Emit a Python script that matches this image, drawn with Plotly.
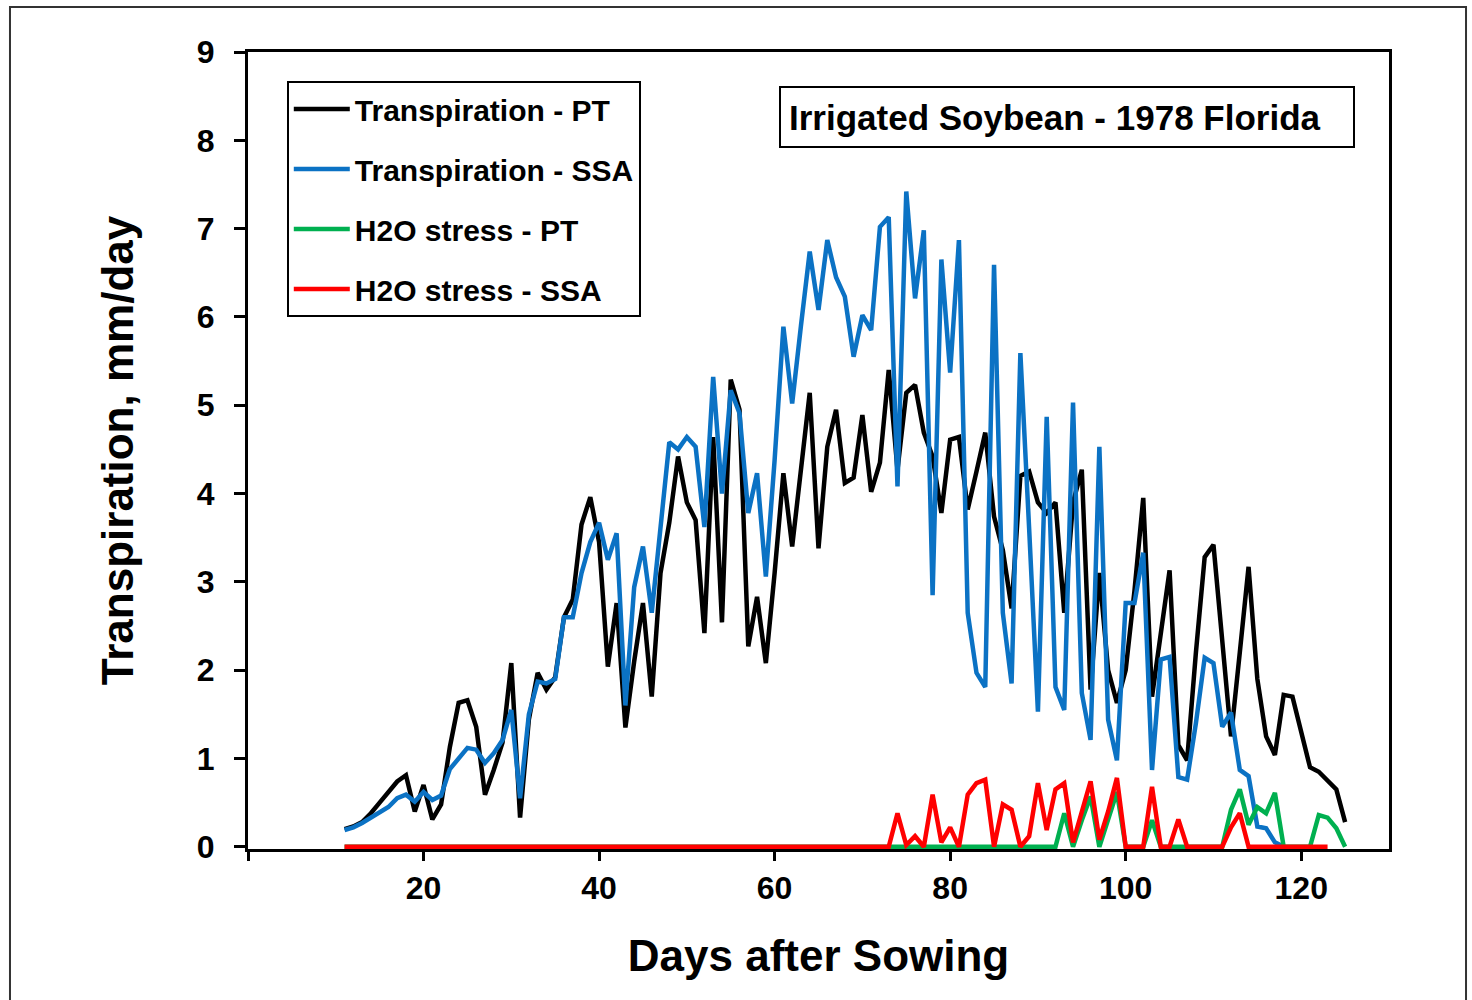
import plotly.graph_objects as go

# ---- data ----
days = list(range(11, 126))

transp_pt = [
    0.2, 0.23, 0.28, 0.38, 0.5, 0.62, 0.74, 0.81, 0.4, 0.7,
    0.31, 0.48, 1.13, 1.63, 1.66, 1.36, 0.59, 0.87, 1.18, 2.08,
    0.33, 1.44, 1.97, 1.78, 1.92, 2.6, 2.8, 3.65, 3.96, 3.45,
    2.04, 2.76, 1.35, 2.1, 2.76, 1.7, 3.1, 3.67, 4.42, 3.9,
    3.7, 2.42, 4.64, 2.54, 5.29, 4.95, 2.27, 2.83, 2.08, 3.1,
    4.23, 3.4, 4.3, 5.14, 3.38, 4.53, 4.95, 4.12, 4.18, 4.89,
    4.02, 4.35, 5.4, 4.27, 5.14, 5.23, 4.69, 4.42, 3.78, 4.61,
    4.64, 3.82, 4.25, 4.69, 3.74, 3.36, 2.7, 4.2, 4.25, 3.9,
    3.78, 3.9, 2.65, 3.9, 4.27, 1.78, 3.1, 2.0, 1.63, 2.0,
    2.9, 3.95, 1.7, 2.4, 3.13, 1.15, 0.98, 2.2, 3.28, 3.42,
    2.4, 1.25, 2.2, 3.17, 1.9, 1.25, 1.04, 1.72, 1.7, 1.3,
    0.9, 0.85, 0.75, 0.65, 0.28,
]

days_ssa = list(range(11, 119))
transp_ssa = [
    0.19, 0.22, 0.27, 0.33, 0.38, 0.45, 0.55, 0.59, 0.51, 0.62,
    0.53, 0.58, 0.88, 1.0, 1.12, 1.1, 0.95, 1.06, 1.21, 1.55,
    0.55, 1.5, 1.87, 1.85, 1.9, 2.6, 2.6, 3.1, 3.45, 3.67,
    3.25, 3.55, 1.6, 2.94, 3.4, 2.65, 3.6, 4.58, 4.5, 4.64,
    4.53, 3.62, 5.32, 4.0, 5.17, 4.91, 3.78, 4.23, 3.06, 4.38,
    5.89, 5.02, 5.9, 6.74, 6.08, 6.87, 6.45, 6.23, 5.55, 6.02,
    5.85, 7.02, 7.13, 4.08, 7.42, 6.21, 6.98, 2.85, 6.65, 5.37,
    6.87, 2.65, 1.97, 1.81, 6.59, 2.65, 1.85, 5.59, 3.6, 1.53,
    4.87, 1.81, 1.55, 5.03, 1.74, 1.21, 4.53, 1.44, 0.98, 2.76,
    2.76, 3.33, 0.87, 2.12, 2.15, 0.79, 0.76, 1.4, 2.14, 2.08,
    1.36, 1.52, 0.87, 0.8, 0.23, 0.21, 0.05, 0.0,
]

stress_pt = [
    0, 0, 0, 0, 0, 0, 0, 0, 0, 0,          # 11-20
    0, 0, 0, 0, 0, 0, 0, 0, 0, 0,          # 21-30
    0, 0, 0, 0, 0, 0, 0, 0, 0, 0,          # 31-40
    0, 0, 0, 0, 0, 0, 0, 0, 0, 0,          # 41-50
    0, 0, 0, 0, 0, 0, 0, 0, 0, 0,          # 51-60
    0, 0, 0, 0, 0, 0, 0, 0, 0, 0,          # 61-70
    0, 0, 0, 0, 0, 0, 0, 0, 0, 0,          # 71-80
    0, 0, 0, 0, 0, 0, 0, 0, 0, 0,          # 81-90
    0, 0, 0.38, 0, 0.3, 0.57, 0, 0.33, 0.62, 0,   # 91-100
    0, 0, 0.3, 0, 0, 0, 0, 0, 0, 0,        # 101-110
    0, 0.42, 0.65, 0.25, 0.45, 0.38, 0.61, 0, 0, 0,  # 111-120
    0, 0.36, 0.33, 0.21, 0,                # 121-125
]

days_red = list(range(11, 124))
stress_ssa = [
    0, 0, 0, 0, 0, 0, 0, 0, 0, 0,          # 11-20
    0, 0, 0, 0, 0, 0, 0, 0, 0, 0,          # 21-30
    0, 0, 0, 0, 0, 0, 0, 0, 0, 0,          # 31-40
    0, 0, 0, 0, 0, 0, 0, 0, 0, 0,          # 41-50
    0, 0, 0, 0, 0, 0, 0, 0, 0, 0,          # 51-60
    0, 0, 0, 0, 0, 0, 0, 0, 0, 0,          # 61-70
    0, 0, 0, 0.38, 0.02, 0.12, 0, 0.59, 0.05, 0.22,  # 71-80
    0, 0.59, 0.72, 0.76, 0, 0.48, 0.42, 0, 0.12, 0.72,  # 81-90
    0.19, 0.65, 0.72, 0.05, 0.4, 0.74, 0.08, 0.4, 0.78, 0,  # 91-100
    0, 0, 0.68, 0, 0, 0.31, 0, 0, 0, 0,    # 101-110
    0, 0.22, 0.38, 0, 0, 0, 0, 0, 0, 0,    # 111-120
    0, 0, 0,                               # 121-123
]

x_tickvals = [0, 20, 40, 60, 80, 100, 120]
x_ticktext = ["", "20", "40", "60", "80", "100", "120"]
y_tickvals = [0, 1, 2, 3, 4, 5, 6, 7, 8, 9]

FONT = "Liberation Sans, Arial, sans-serif"

fig = go.Figure()
series = [
    ("Transpiration - PT", days, transp_pt, "#000000"),
    ("Transpiration - SSA", days_ssa, transp_ssa, "#0B72C4"),
    ("H2O stress - PT", days, stress_pt, "#00B050"),
    ("H2O stress - SSA", days_red, stress_ssa, "#FF0000"),
]
for i, (name, xs, ys, col) in enumerate(series):
    fig.add_trace(go.Scatter(
        x=xs, y=ys, mode="lines", name=name,
        line=dict(color=col, width=4.5),
        legendgroup=f"g{i}",
    ))

fig.update_layout(
    width=1472, height=1000,
    margin=dict(l=248, r=83, t=52, b=151),
    paper_bgcolor="white", plot_bgcolor="white",
    font=dict(family=FONT, color="black"),
    showlegend=True,
    legend=dict(
        x=0.034, y=0.9636, xanchor="left", yanchor="top",
        bgcolor="white", bordercolor="black", borderwidth=2,
        font=dict(size=30, weight="bold", family=FONT, color="black"),
        tracegroupgap=18, itemwidth=56,
    ),
    xaxis=dict(
        range=[0, 130], tickvals=x_tickvals, ticktext=x_ticktext,
        showgrid=False, zeroline=False,
        showline=True, linecolor="black", linewidth=3, mirror=True,
        ticks="outside", ticklen=9, tickwidth=3, tickcolor="black",
        tickfont=dict(size=32, weight="bold", family=FONT),
        title=dict(text="Days after Sowing", standoff=35,
                   font=dict(size=44, weight="bold", family=FONT)),
        layer="below traces",
    ),
    yaxis=dict(
        range=[-0.025, 9], tickvals=y_tickvals,
        showgrid=False, zeroline=False,
        showline=True, linecolor="black", linewidth=3, mirror=True,
        ticks="outside", ticklen=11, tickwidth=3, tickcolor="black",
        ticklabelstandoff=13,
        tickfont=dict(size=32, weight="bold", family=FONT),
        title=dict(text="Transpiration, mm/day", standoff=50,
                   font=dict(size=44, weight="bold", family=FONT)),
        layer="below traces",
    ),
    annotations=[dict(
        text="Irrigated Soybean - 1978 Florida",
        xref="paper", yref="paper", x=0.7178, y=0.9184,
        xanchor="center", yanchor="middle", showarrow=False,
        font=dict(size=35, weight="bold", family=FONT, color="black"),
        width=556, height=42, align="left",
        bordercolor="black", borderwidth=2, borderpad=8, bgcolor="white",
    )],
    shapes=[dict(
        type="rect", xref="paper", yref="paper",
        x0=-0.2086, x1=1.0675, y0=-0.202, y1=1.0565,
        line=dict(color="#333333", width=2), layer="below",
    )],
)

fig.write_html("out.html")
